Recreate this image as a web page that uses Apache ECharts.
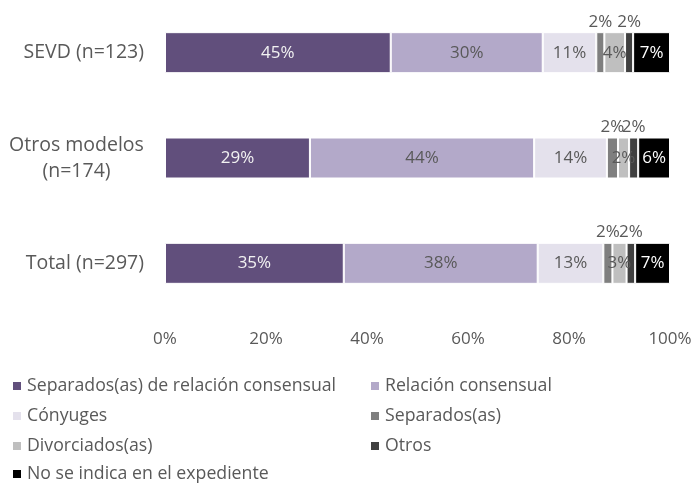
<!DOCTYPE html>
<html>
<head>
<meta charset="utf-8">
<script src="https://cdn.jsdelivr.net/npm/echarts@6/dist/echarts.min.js"></script>
<style>
  html, body { margin: 0; padding: 0; background: #fff; }
  #chart { width: 695px; height: 483px; }
</style>
</head>
<body>
<div id="chart"></div>
<script>
// Groups shown on the vertical axis (top to bottom)
const categories = ['SEVD (n=123)', 'Otros modelos\n(n=174)', 'Total (n=297)'];

// Marital situation shares, % of each group (order matches categories)
const separadosConsensual = [44.7, 28.7, 35.4];
const relacionConsensual  = [30.1, 44.4, 38.4];
const conyuges            = [10.6, 14.4, 13.0];
const separados           = [1.6, 2.2, 1.8];
const divorciados         = [4.1, 2.2, 2.8];
const otros               = [1.6, 1.8, 1.7];
const noIndica            = [7.3, 6.3, 6.9];

const xTicks = [0, 20, 40, 60, 80, 100];

const seriesDefs = [
  { name: 'Separados(as) de relación consensual', data: separadosConsensual, color: '#614f7c', text: '#f2f2f2', pos: 'inside' },
  { name: 'Relación consensual', data: relacionConsensual, color: '#b3a9c9', text: '#595959', pos: 'inside' },
  { name: 'Cónyuges', data: conyuges, color: '#e4e1ec', text: '#595959', pos: 'inside' },
  { name: 'Separados(as)', data: separados, color: '#7f7f7f', text: '#595959', pos: 'top' },
  { name: 'Divorciados(as)', data: divorciados, color: '#bfbfbf', text: '#595959', pos: 'inside' },
  { name: 'Otros', data: otros, color: '#404040', text: '#595959', pos: 'top' },
  { name: 'No se indica en el expediente', data: noIndica, color: '#000000', text: '#ffffff', pos: 'inside' }
];

const font = 'Open Sans';
const grey = '#595959';

const series = seriesDefs.map(d => ({
  name: d.name,
  type: 'bar',
  stack: 'total',
  barWidth: 41,
  data: d.data,
  itemStyle: { color: d.color, borderColor: '#ffffff', borderWidth: 1 },
  label: {
    show: true,
    position: d.pos,
    distance: 2,
    color: d.text,
    fontFamily: font,
    fontSize: 17,
    formatter: p => Math.round(p.value) + '%'
  },
  emphasis: { disabled: true }
}));

const legendBase = {
  orient: 'vertical',
  padding: 0,
  itemWidth: 10,
  itemHeight: 10,
  itemGap: 10,
  icon: 'rect',
  textStyle: { color: grey, fontFamily: font, fontSize: 17.7, lineHeight: 20 }
};

const chart = echarts.init(document.getElementById('chart'));
chart.setOption({
  animation: false,
  grid: { left: 165, right: 25, top: -1, bottom: 167 },
  xAxis: {
    type: 'value',
    min: 0,
    max: 100,
    interval: 20,
    axisLine: { show: false },
    axisTick: { show: false },
    splitLine: { show: false },
    axisLabel: {
      margin: 15,
      color: grey,
      fontFamily: font,
      fontSize: 17,
      formatter: v => xTicks.includes(v) ? v + '%' : ''
    }
  },
  yAxis: {
    type: 'category',
    inverse: true,
    data: categories,
    axisLine: { show: false },
    axisTick: { show: false },
    axisLabel: {
      margin: 21,
      color: grey,
      fontFamily: font,
      fontSize: 19.5,
      lineHeight: 26,
      align: 'right',
      // two-line labels are centred within their own block
      formatter: v => v.includes('\n') ? '{m|' + v + '}' : v,
      rich: {
        m: { width: 135, align: 'center', fontFamily: font, fontSize: 19.5, lineHeight: 26, color: grey }
      }
    }
  },
  legend: [
    Object.assign({}, legendBase, {
      left: 11, top: 376,
      data: [seriesDefs[0].name, seriesDefs[2].name, seriesDefs[4].name]
    }),
    Object.assign({}, legendBase, {
      left: 11, top: 464,
      data: [seriesDefs[6].name]
    }),
    Object.assign({}, legendBase, {
      left: 369, top: 376,
      data: [seriesDefs[1].name, seriesDefs[3].name, seriesDefs[5].name]
    })
  ],
  series: series
});
</script>
</body>
</html>
